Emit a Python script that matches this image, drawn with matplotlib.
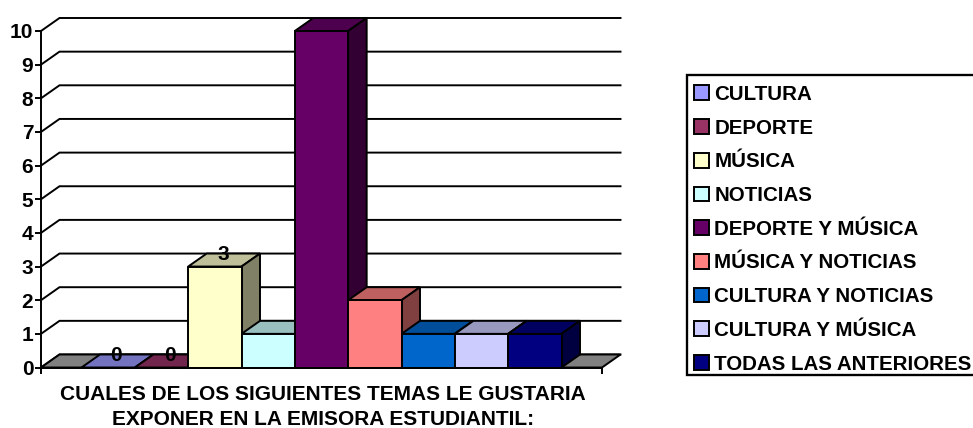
import matplotlib
matplotlib.use('Agg')
import matplotlib.pyplot as plt
from matplotlib.patches import Polygon, Patch, Rectangle
from matplotlib.colors import to_rgb

plt.rcParams['font.family'] = ['Liberation Sans', 'DejaVu Sans']
plt.rcParams['font.weight'] = 'bold'

categories = ['CULTURA', 'DEPORTE', 'MÚSICA', 'NOTICIAS', 'DEPORTE Y MÚSICA',
              'MÚSICA Y NOTICIAS', 'CULTURA Y NOTICIAS', 'CULTURA Y MÚSICA',
              'TODAS LAS ANTERIORES']
values = [0, 0, 3, 1, 10, 2, 1, 1, 1]
shown_labels = ['0', '0', '3', '', '', '', '', '', '']
colors = ['#9999FF', '#993366', '#FFFFCC', '#CCFFFF', '#660066',
          '#FF8080', '#0066CC', '#CCCCFF', '#000080']
yticks = list(range(0, 11))
xlabel = 'CUALES DE LOS SIGUIENTES TEMAS LE GUSTARIA\nEXPONER EN LA EMISORA ESTUDIANTIL:'

W, H = 973, 428
# plot box in pixels, depth of the fake 3d too
left, right, y0, y10 = 41.0, 602.0, 367.5, 31.0
depth_px, rise_px = 18.5, 13.0
margin = 40.5

fig = plt.figure(figsize=(W/100, H/100), dpi=100)
ax = fig.add_axes([left/W, 1-y0/H, (right-left)/W, (y0-y10)/H])

bar_w = (right-left-2*margin)/len(values)
xmin, xmax = -margin/bar_w, len(values)+margin/bar_w
ax.set_xlim(xmin, xmax)
ax.set_ylim(0, 10)
dx = depth_px/bar_w
dy = rise_px/((y0-y10)/10)
LW = 1.4

def shade(c, f):
    return tuple(v*f for v in to_rgb(c))

def poly(pts, fc, z):
    ax.add_patch(Polygon(pts, closed=True, fc=fc, ec='black', lw=LW,
                         zorder=z, clip_on=False, joinstyle='miter'))

# walls
for v in yticks:
    ax.plot([xmin, xmin+dx, xmax+dx], [v, v+dy, v+dy], color='black', lw=LW,
            clip_on=False, zorder=1, solid_joinstyle='miter')

# floor
poly([(xmin, 0), (xmin+dx, dy), (xmax+dx, dy), (xmax, 0)], '#808080', 2)

for i, (v, c) in enumerate(zip(values, colors)):
    z = 3+i
    poly([(i, v), (i+dx, v+dy), (i+1+dx, v+dy), (i+1, v)], shade(c, 0.75), z)
    if v > 0:
        poly([(i+1, 0), (i+1+dx, dy), (i+1+dx, v+dy), (i+1, v)], shade(c, 0.5), z)
        poly([(i, 0), (i, v), (i+1, v), (i+1, 0)], c, z)

for i, (v, s) in enumerate(zip(values, shown_labels)):
    if s:
        ax.text(i+0.48+dx/2, v+dy*0.95, s, ha='center', va='center', fontsize=15,
                fontweight='bold', zorder=20)

for s in ['top', 'right']:
    ax.spines[s].set_visible(False)
for s in ['left', 'bottom']:
    ax.spines[s].set_linewidth(LW)
    ax.spines[s].set_zorder(15)
ax.patch.set_alpha(0)
ax.set_yticks(yticks)
ax.set_xticks([xmin, xmax])
ax.set_xticklabels([])
ax.tick_params(axis='y', length=4, width=LW, pad=1.5, labelsize=15)
ax.tick_params(axis='x', length=4, width=LW)
ax.set_xlabel(xlabel, fontsize=15, fontweight='bold', linespacing=1.46)
ax.xaxis.set_label_coords((323-left)/(right-left), -(384.5-y0)/(y0-y10), transform=ax.transAxes)
ax.xaxis.label.set_va('top')

# frame apart from the legend, text sits low in it
fig.add_artist(Rectangle((687/W, 1-375/H), 290/W, 300/H, transform=fig.transFigure,
                         fc='white', ec='black', lw=LW*1.2, zorder=5))
handles = [Patch(fc=c, ec='black', lw=LW) for c in colors]
leg = fig.legend(handles, categories, loc='upper left',
                 bbox_to_anchor=(694/W, 1-85/H), borderaxespad=0, fontsize=14.8,
                 frameon=False, borderpad=0,
                 handlelength=0.72, handleheight=0.72, handletextpad=0.27,
                 labelspacing=0.715)
leg.set_zorder(6)

fig.savefig('out.png', dpi=100)
